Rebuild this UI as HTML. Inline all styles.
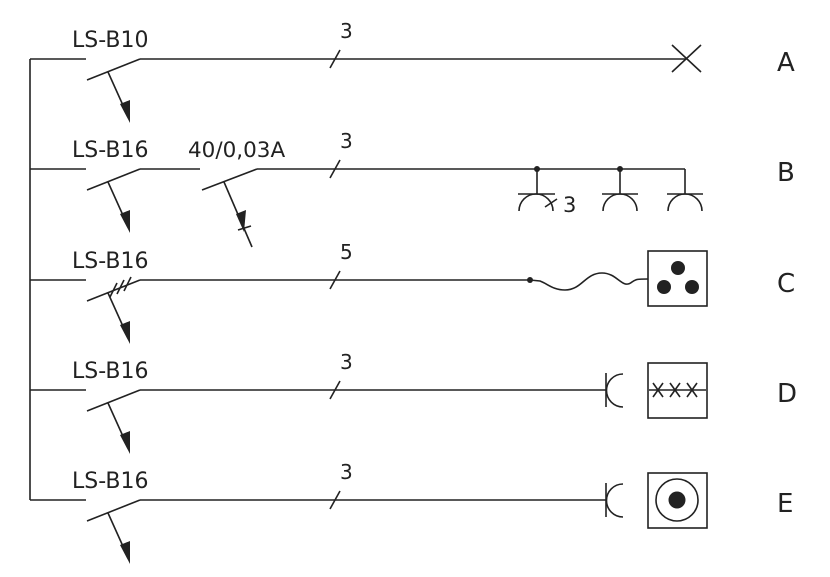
<!DOCTYPE html>
<html><head><style>
html,body{margin:0;padding:0;background:#fff;}
svg{display:block;}
text{font-family:"DejaVu Sans","Liberation Sans",sans-serif;fill:#222;}
</style></head><body>
<svg width="830" height="577" viewBox="0 0 830 577" xmlns="http://www.w3.org/2000/svg">
<defs>
<g id="sw" stroke="#222" stroke-width="1.6" fill="none">
<line x1="30" y1="0" x2="86" y2="0"/>
<line x1="87" y1="21" x2="140" y2="0"/>
<line x1="108" y1="13" x2="126" y2="53"/>
<polygon points="130,64 120,45 130,41" fill="#222" stroke="none"/>
</g>
</defs>
<line x1="30" y1="59" x2="30" y2="500" stroke="#222" stroke-width="1.6"/>

<!-- A -->
<use href="#sw" y="59"/>
<line x1="140" y1="59" x2="686" y2="59" stroke="#222" stroke-width="1.6"/>
<line x1="330" y1="68" x2="340" y2="50" stroke="#222" stroke-width="1.6"/>
<path d="M672,45 L701,72 M672,72 L701,45" stroke="#222" stroke-width="1.6"/>
<text x="72" y="47" font-size="22">LS-B10</text>
<text x="340" y="38" font-size="20">3</text>
<text x="777" y="71" font-size="26">A</text>

<!-- B -->
<use href="#sw" y="169"/>
<g stroke="#222" stroke-width="1.6" fill="none">
<line x1="140" y1="169" x2="200" y2="169"/>
<line x1="202" y1="190" x2="257" y2="169"/>
<line x1="257" y1="169" x2="685" y2="169"/>
<line x1="685" y1="169" x2="685" y2="194"/>
<line x1="224" y1="182" x2="252" y2="247"/>
<line x1="238" y1="230" x2="251" y2="226"/>
<line x1="330" y1="178" x2="340" y2="160"/>
<line x1="537" y1="169" x2="537" y2="194"/>
<line x1="620" y1="169" x2="620" y2="194"/>
<line x1="518" y1="194" x2="555" y2="194"/>
<path d="M519,211 A17,17 0 0 1 553,211"/>
<line x1="545" y1="207" x2="557" y2="199"/>
<line x1="602" y1="194" x2="638" y2="194"/>
<path d="M603,211 A17,17 0 0 1 637,211"/>
<line x1="667" y1="194" x2="703" y2="194"/>
<path d="M668,211 A17,17 0 0 1 702,211"/>
</g>
<polygon points="244,232 236,214 246,210" fill="#222"/>
<circle cx="537" cy="169" r="3" fill="#222"/>
<circle cx="620" cy="169" r="3" fill="#222"/>
<text x="72" y="157" font-size="22">LS-B16</text>
<text x="188" y="157" font-size="21.5">40/0,03A</text>
<text x="340" y="148" font-size="20">3</text>
<text x="563" y="212" font-size="21">3</text>
<text x="777" y="181" font-size="26">B</text>

<!-- C -->
<use href="#sw" y="280"/>
<g stroke="#222" stroke-width="1.6" fill="none">
<line x1="140" y1="280" x2="530" y2="280"/>
<line x1="330" y1="289" x2="340" y2="271"/>
<line x1="110" y1="297" x2="117" y2="283"/>
<line x1="117" y1="294" x2="124" y2="280"/>
<line x1="124" y1="291" x2="131" y2="277"/>
<path d="M530,280 L540,281 C548,284 553,290 565,290 C582,290 585,273 602,273 C618,273 622,290 632,282 C636,279 638,279 648,279"/>
<rect x="648" y="251" width="59" height="55"/>
</g>
<circle cx="530" cy="280" r="3" fill="#222"/>
<circle cx="678" cy="268" r="7" fill="#222"/>
<circle cx="664" cy="287" r="7" fill="#222"/>
<circle cx="692" cy="287" r="7" fill="#222"/>
<text x="72" y="268" font-size="22">LS-B16</text>
<text x="340" y="259" font-size="20">5</text>
<text x="777" y="292" font-size="26">C</text>

<!-- D -->
<use href="#sw" y="390"/>
<g stroke="#222" stroke-width="1.6" fill="none">
<line x1="140" y1="390" x2="606" y2="390"/>
<line x1="330" y1="399" x2="340" y2="381"/>
<line x1="606" y1="373" x2="606" y2="407"/>
<path d="M623,374 A16,16 0 0 0 623,407"/>
<rect x="648" y="363" width="59" height="55"/>
<line x1="649" y1="390" x2="706" y2="390"/>
<path d="M653,383 L663,397 M663,383 L653,397 M670,383 L680,397 M680,383 L670,397 M687,383 L697,397 M697,383 L687,397"/>
</g>
<text x="72" y="378" font-size="22">LS-B16</text>
<text x="340" y="369" font-size="20">3</text>
<text x="777" y="402" font-size="26">D</text>

<!-- E -->
<use href="#sw" y="500"/>
<g stroke="#222" stroke-width="1.6" fill="none">
<line x1="140" y1="500" x2="606" y2="500"/>
<line x1="330" y1="509" x2="340" y2="491"/>
<line x1="606" y1="483" x2="606" y2="517"/>
<path d="M623,484 A16,16 0 0 0 623,517"/>
<rect x="648" y="473" width="59" height="55"/>
<circle cx="677" cy="500" r="21"/>
</g>
<circle cx="677" cy="500" r="8.5" fill="#222"/>
<text x="72" y="488" font-size="22">LS-B16</text>
<text x="340" y="479" font-size="20">3</text>
<text x="777" y="512" font-size="26">E</text>
</svg>
</body></html>
